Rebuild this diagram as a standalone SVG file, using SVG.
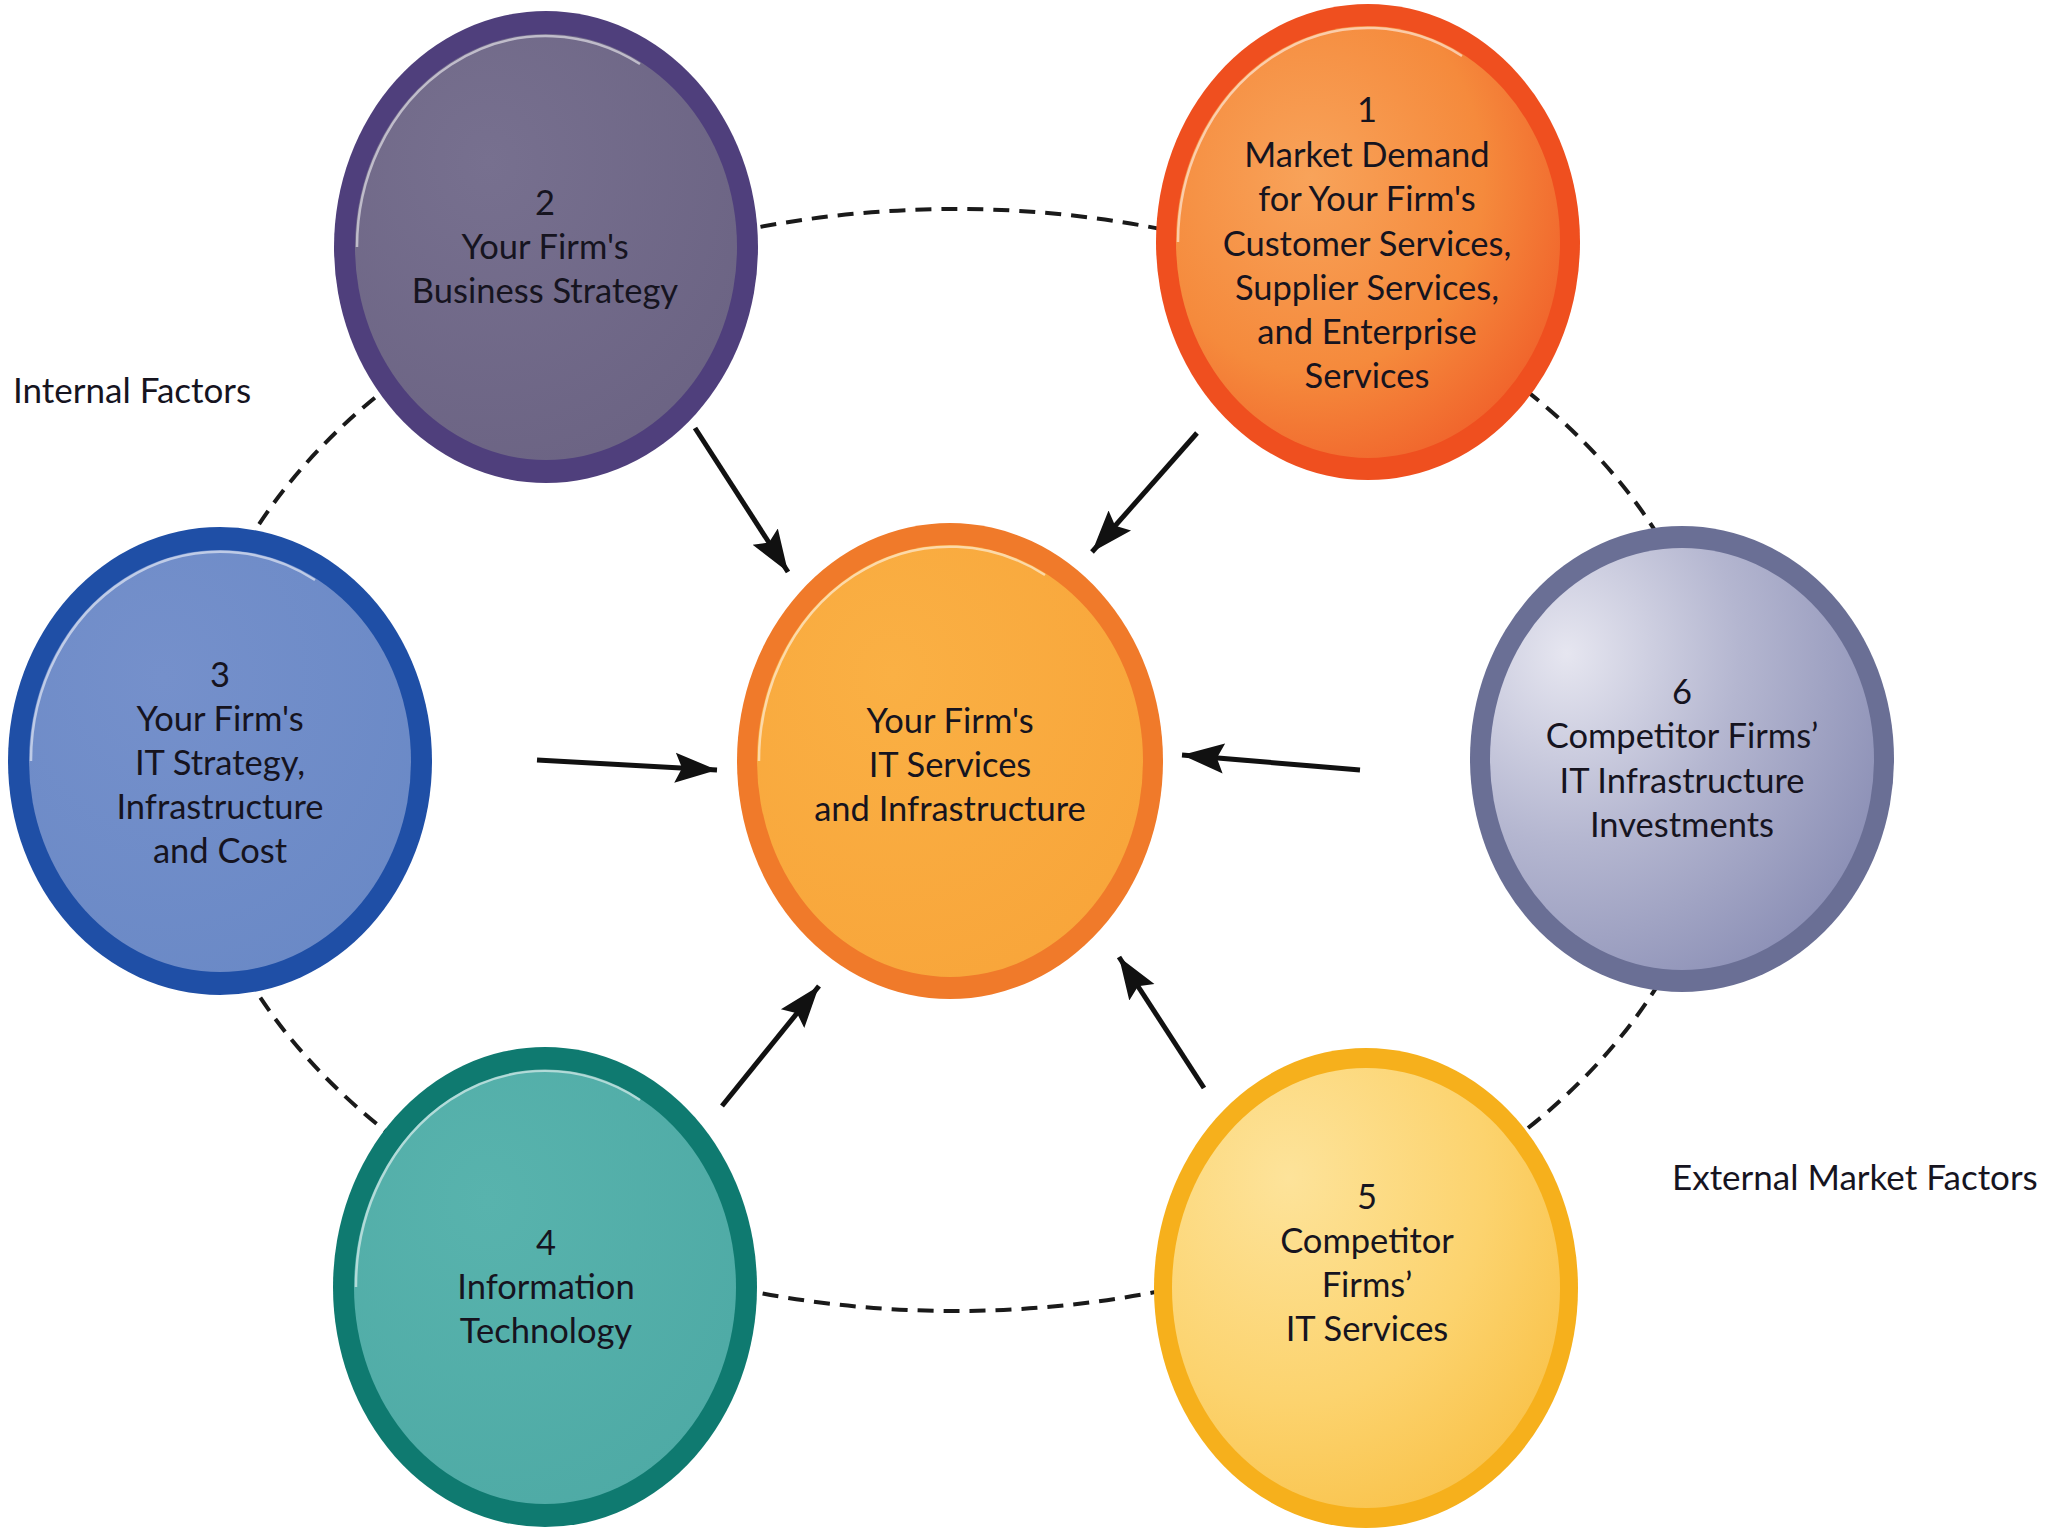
<svg xmlns="http://www.w3.org/2000/svg" width="2048" height="1536" viewBox="0 0 2048 1536">
<style>
.lbl{font-family:Lato,"Open Sans","Liberation Sans",sans-serif;font-size:34.5px;fill:#16141f;text-anchor:middle}
.side{font-family:Lato,"Open Sans","Liberation Sans",sans-serif;font-size:35px;fill:#16141f}
.hl{fill:none;stroke:#ffffff;stroke-opacity:0.55;stroke-width:2.5}
.arr{stroke:#111;stroke-width:5;fill:none;marker-end:url(#ah)}
.dash{fill:none;stroke:#1a1a1a;stroke-width:4;stroke-dasharray:16 10}
</style>
<defs>
<marker id="ah" markerUnits="userSpaceOnUse" markerWidth="44" markerHeight="34" refX="42" refY="17" orient="auto">
<path d="M0,2 L42,17 L0,32 L7,17 z" fill="#111"/>
</marker>
<radialGradient id="g1" cx="0.35" cy="0.35" r="0.75"><stop offset="0" stop-color="#f8a35a"/><stop offset="0.6" stop-color="#f58a3c"/><stop offset="1" stop-color="#f0602a"/></radialGradient>
<radialGradient id="g2" cx="0.35" cy="0.3" r="0.8"><stop offset="0" stop-color="#77708f"/><stop offset="1" stop-color="#6b6383"/></radialGradient>
<radialGradient id="gc" cx="0.35" cy="0.3" r="0.8"><stop offset="0" stop-color="#fab044"/><stop offset="1" stop-color="#f8a53a"/></radialGradient>
<radialGradient id="g3" cx="0.35" cy="0.3" r="0.8"><stop offset="0" stop-color="#7590cb"/><stop offset="1" stop-color="#6a89c6"/></radialGradient>
<radialGradient id="g6" cx="0.2" cy="0.25" r="0.9"><stop offset="0" stop-color="#e6e6f0"/><stop offset="0.5" stop-color="#b4b6d0"/><stop offset="1" stop-color="#8c90b6"/></radialGradient>
<radialGradient id="g4" cx="0.35" cy="0.3" r="0.8"><stop offset="0" stop-color="#58b3ad"/><stop offset="1" stop-color="#4eaaa5"/></radialGradient>
<radialGradient id="g5" cx="0.3" cy="0.25" r="0.85"><stop offset="0" stop-color="#fde39a"/><stop offset="0.6" stop-color="#fcd36e"/><stop offset="1" stop-color="#f9c24a"/></radialGradient>
</defs>
<rect width="2048" height="1536" fill="#ffffff"/>

<g id="connectors">
<ellipse class="dash" cx="955" cy="760" rx="770" ry="551"/>
<line class="arr" x1="695" y1="428" x2="788" y2="572"/>
<line class="arr" x1="1197" y1="433" x2="1092" y2="552"/>
<line class="arr" x1="537" y1="760" x2="717" y2="770"/>
<line class="arr" x1="1360" y1="770" x2="1182" y2="755"/>
<line class="arr" x1="722" y1="1106" x2="819" y2="986"/>
<line class="arr" x1="1204" y1="1088" x2="1119" y2="957"/>
</g>

<g id="node-2">
<ellipse cx="546" cy="247" rx="212" ry="236" fill="#4f3f7c"/>
<ellipse cx="546" cy="247" rx="191" ry="213" fill="url(#g2)"/>
<path class="hl" d="M357,247 A189,211 0 0 1 640,64"/>
<text class="lbl" x="545" y="215">2</text>
<text class="lbl" x="545" y="259">Your Firm's</text>
<text class="lbl" x="545" y="303">Business Strategy</text>
</g>

<g id="node-1">
<ellipse cx="1368" cy="242" rx="212" ry="238" fill="#ef4f1f"/>
<ellipse cx="1368" cy="242" rx="192" ry="216" fill="url(#g1)"/>
<path class="hl" d="M1178,242 A190,214 0 0 1 1462,56"/>
<text class="lbl" x="1367" y="122">1</text>
<text class="lbl" x="1367" y="167">Market Demand</text>
<text class="lbl" x="1367" y="211">for Your Firm's</text>
<text class="lbl" x="1367" y="256">Customer Services,</text>
<text class="lbl" x="1367" y="300">Supplier Services,</text>
<text class="lbl" x="1367" y="344">and Enterprise</text>
<text class="lbl" x="1367" y="388">Services</text>
</g>

<g id="node-center">
<ellipse cx="950" cy="761" rx="213" ry="238" fill="#f07a2a"/>
<ellipse cx="950" cy="761" rx="193" ry="216" fill="url(#gc)"/>
<path class="hl" d="M759,761 A191,214 0 0 1 1045,575"/>
<text class="lbl" x="950" y="733">Your Firm's</text>
<text class="lbl" x="950" y="777">IT Services</text>
<text class="lbl" x="950" y="821">and Infrastructure</text>
</g>

<g id="node-3">
<ellipse cx="220" cy="761" rx="212" ry="234" fill="#1f4fa6"/>
<ellipse cx="220" cy="761" rx="191" ry="211" fill="url(#g3)"/>
<path class="hl" d="M31,761 A189,209 0 0 1 315,580"/>
<text class="lbl" x="220" y="687">3</text>
<text class="lbl" x="220" y="731">Your Firm's</text>
<text class="lbl" x="220" y="775">IT Strategy,</text>
<text class="lbl" x="220" y="819">Infrastructure</text>
<text class="lbl" x="220" y="863">and Cost</text>
</g>

<g id="node-6">
<ellipse cx="1682" cy="759" rx="212" ry="233" fill="#6a6f95"/>
<ellipse cx="1682" cy="759" rx="192" ry="211" fill="url(#g6)"/>
<text class="lbl" x="1682" y="704">6</text>
<text class="lbl" x="1682" y="748">Competitor Firms’</text>
<text class="lbl" x="1682" y="793">IT Infrastructure</text>
<text class="lbl" x="1682" y="837">Investments</text>
</g>

<g id="node-4">
<ellipse cx="545" cy="1287" rx="212" ry="240" fill="#0f7a70"/>
<ellipse cx="545" cy="1287" rx="191" ry="217" fill="url(#g4)"/>
<path class="hl" d="M356,1287 A189,215 0 0 1 640,1100"/>
<text class="lbl" x="546" y="1255">4</text>
<text class="lbl" x="546" y="1299">Information</text>
<text class="lbl" x="546" y="1343">Technology</text>
</g>

<g id="node-5">
<ellipse cx="1366" cy="1288" rx="212" ry="240" fill="#f6b01c"/>
<ellipse cx="1366" cy="1288" rx="194" ry="220" fill="url(#g5)"/>
<text class="lbl" x="1367" y="1209">5</text>
<text class="lbl" x="1367" y="1253">Competitor</text>
<text class="lbl" x="1367" y="1297">Firms’</text>
<text class="lbl" x="1367" y="1341">IT Services</text>
</g>

<g id="labels">
<text class="side" x="13" y="403">Internal Factors</text>
<text class="side" x="1672" y="1190">External Market Factors</text>
</g>
</svg>
